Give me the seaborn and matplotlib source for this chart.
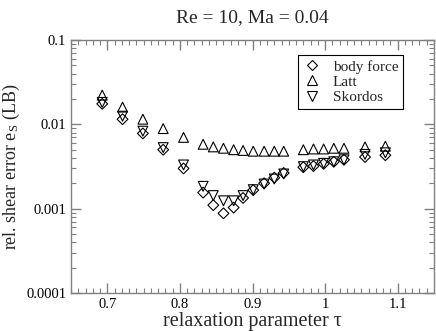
import pandas as pd
import matplotlib
matplotlib.use('Agg')
import matplotlib.pyplot as plt
from matplotlib.lines import Line2D
from matplotlib.ticker import MultipleLocator, FixedLocator, FuncFormatter, LogLocator, NullFormatter
import seaborn as sns

# relaxation parameter tau for each run
tau = [0.693, 0.721, 0.749, 0.777, 0.805,
       0.832, 0.846, 0.860, 0.874, 0.887, 0.901, 0.916, 0.930, 0.943,
       0.970, 0.984, 0.998, 1.012, 1.026,
       1.055, 1.083]

body_force = [0.0175, 0.0115, 0.0078, 0.0050, 0.0030,
              0.00155, 0.00110, 0.00088, 0.00103, 0.00134, 0.00166, 0.00200, 0.00233, 0.00265,
              0.0031, 0.0032, 0.0034, 0.0036, 0.0038,
              0.0041, 0.0043]
latt = [0.0222, 0.0160, 0.0115, 0.0089, 0.0070,
        0.0058, 0.0054, 0.0052, 0.0050, 0.0049, 0.0048, 0.0048, 0.0048, 0.0048,
        0.0050, 0.0051, 0.0051, 0.0052, 0.0052,
        0.0054, 0.0055]
skordos = [0.0182, 0.0125, 0.0083, 0.0053, 0.0033,
           0.00184, 0.00143, 0.00124, 0.00124, 0.00143, 0.00168, 0.00196, 0.00225, 0.00258,
           0.00315, 0.0033, 0.00345, 0.0036, 0.0038,
           0.0044, 0.0046]

methods = ['body force', 'Latt', 'Skordos']
markers = {'body force': 'D', 'Latt': '^', 'Skordos': 'v'}
sizes = {'body force': 30, 'Latt': 50, 'Skordos': 50}

df = pd.DataFrame({
    'tau': tau * 3,
    'err': body_force + latt + skordos,
    'method': ['body force'] * len(tau) + ['Latt'] * len(tau) + ['Skordos'] * len(tau),
})

sns.set_style('ticks')
plt.rcParams['font.family'] = ['Liberation Serif', 'DejaVu Serif']
plt.rcParams['mathtext.fontset'] = 'custom'
plt.rcParams['mathtext.rm'] = 'Liberation Serif'
plt.rcParams['mathtext.it'] = 'Liberation Serif:italic'

fig = plt.figure(figsize=(4.36, 3.31), dpi=100)
ax = fig.add_axes([71 / 436, 1 - 293 / 331, 363 / 436, 253 / 331])

for m in methods:
    sns.scatterplot(data=df[df['method'] == m], x='tau', y='err', marker=markers[m],
                    s=sizes[m], facecolor='none', edgecolor='black', linewidth=0.8,
                    ax=ax, legend=False, zorder=3)

ax.set_yscale('log')
ax.set_xlim(0.65, 1.15)
ax.set_ylim(1e-4, 0.1)

ax.xaxis.set_major_locator(FixedLocator([0.7, 0.8, 0.9, 1.0, 1.1]))
ax.xaxis.set_major_formatter(FuncFormatter(lambda v, p: '%g' % v))
ax.xaxis.set_minor_locator(MultipleLocator(0.01))
ax.yaxis.set_major_locator(FixedLocator([1e-4, 1e-3, 1e-2, 1e-1]))
ax.yaxis.set_major_formatter(FuncFormatter(lambda v, p: {1e-4: '0.0001', 1e-3: '0.001', 1e-2: '0.01', 1e-1: '0.1'}.get(v, '')))
ax.yaxis.set_minor_locator(LogLocator(base=10, subs=range(2, 10)))
ax.yaxis.set_minor_formatter(NullFormatter())

grey = '#808080'
for s in ax.spines.values():
    s.set_color(grey)
    s.set_linewidth(1.0)
ax.tick_params(which='both', direction='in', top=True, right=True, color=grey,
               labelsize=10.5, labelcolor='black')
ax.tick_params(which='major', length=7, width=1)
ax.tick_params(which='minor', length=3.5, width=0.8)

ax.set_xlabel('relaxation parameter τ', fontsize=14.5, labelpad=1)
ax.set_ylabel(r'rel. shear error e$_\mathrm{S}$ (LB)', fontsize=13, labelpad=3)
ax.set_title('Re = 10, Ma = 0.04', fontsize=14, pad=13)

handles = [Line2D([], [], linestyle='none', marker=markers[m],
                  markersize=7 if m != 'body force' else 5.5,
                  markerfacecolor='none', markeredgecolor='black', markeredgewidth=0.8)
           for m in methods]
leg = ax.legend(handles, methods, loc='upper right', bbox_to_anchor=(0.915, 0.94),
                fontsize=11, frameon=True, fancybox=False, framealpha=1,
                borderpad=0.3, labelspacing=0.1, handletextpad=0.8, handlelength=1.2,
                borderaxespad=0)
leg.get_frame().set_edgecolor('black')
leg.get_frame().set_linewidth(0.8)

fig.savefig('out.png', dpi=100)
